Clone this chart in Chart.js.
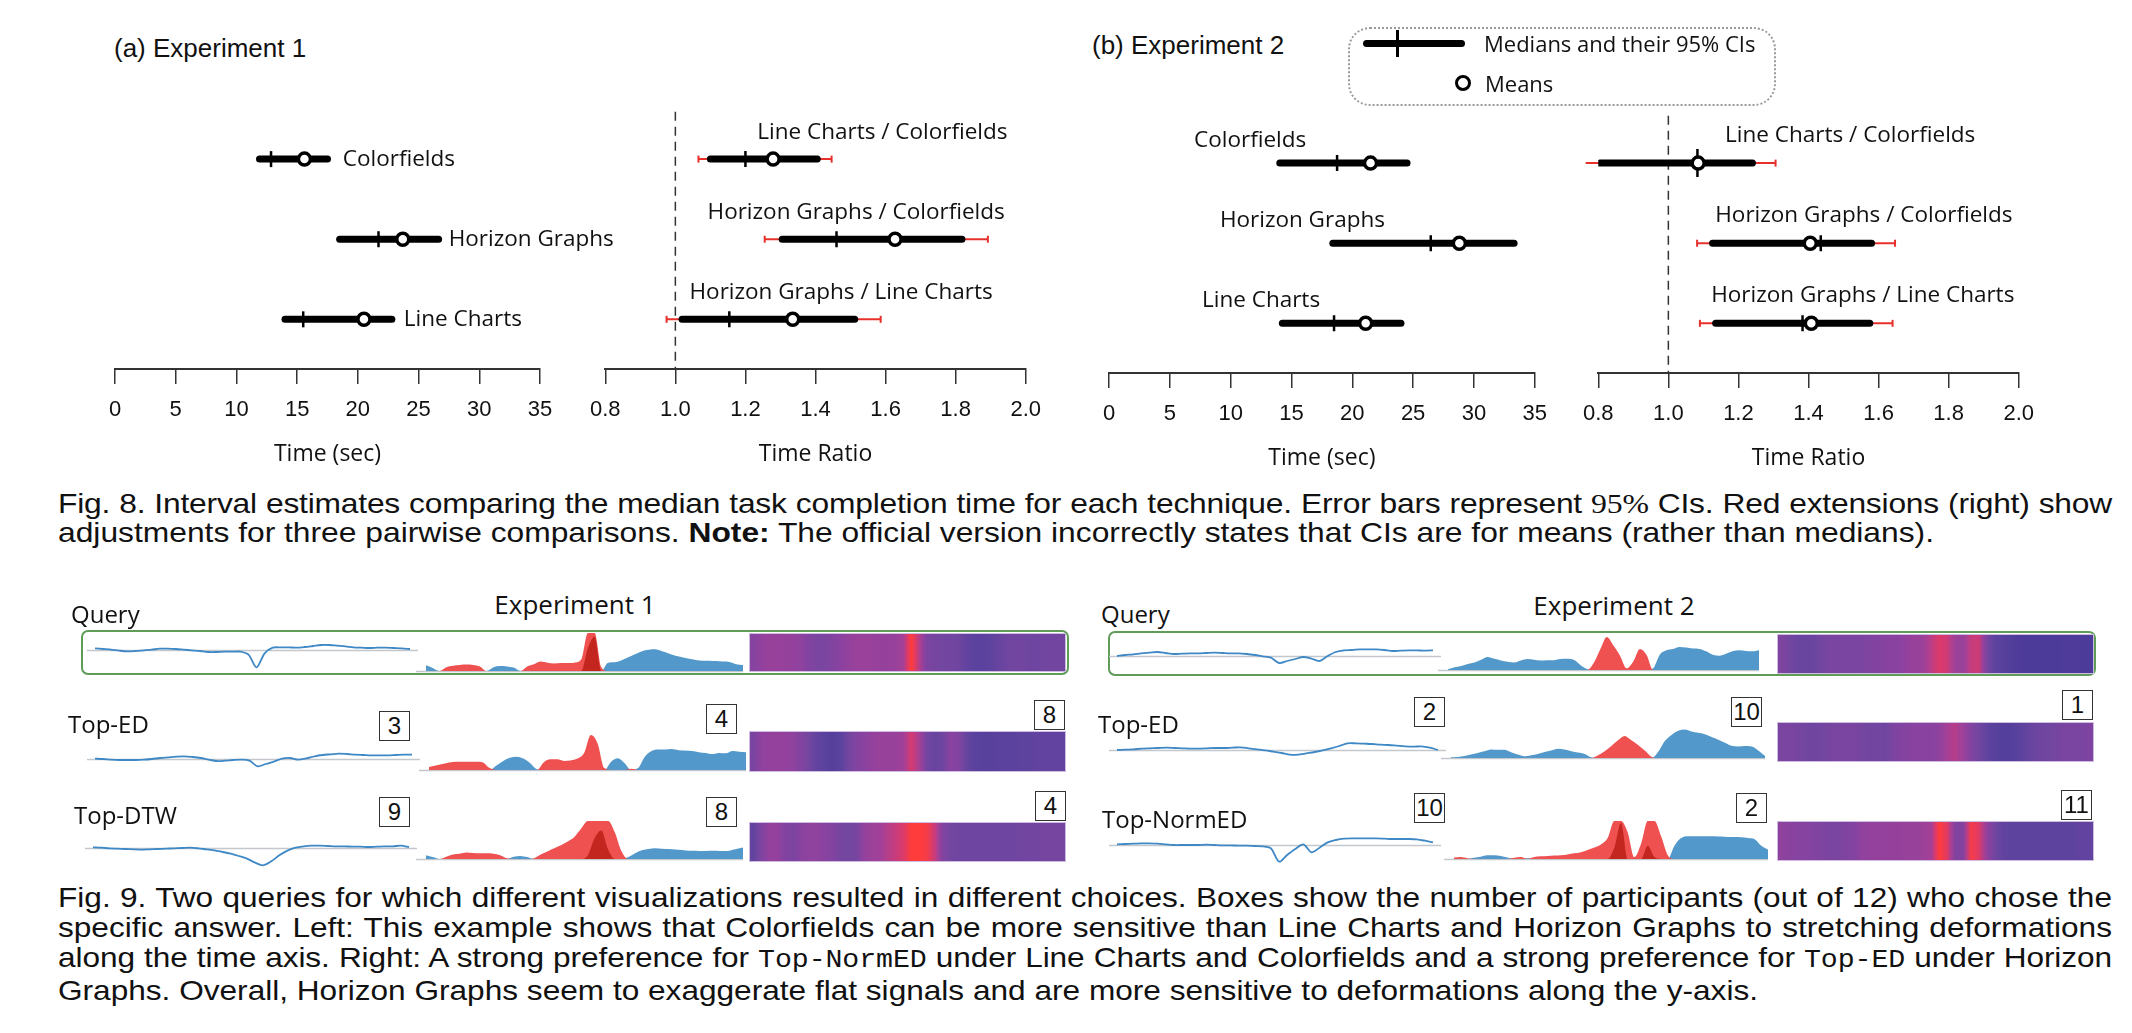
<!DOCTYPE html>
<html>
<head>
<meta charset="utf-8">
<script src="https://cdn.jsdelivr.net/npm/chart.js@4.4.1/dist/chart.umd.min.js"></script>
<style>
  body { margin: 0; background: #fff; }
  #page { position: relative; width: 2132px; height: 1033px; overflow: hidden; color: #111;
          font-family: 'Liberation Sans', Arial, sans-serif; }
  canvas { position: absolute; }
  .t { position: absolute; white-space: nowrap; }
  .num { position: absolute; box-sizing: border-box; border: 1.5px solid #333; background: #fff;
         text-align: center; font: 24px 'Liberation Sans', Arial, sans-serif; color: #111; }
  .qbox { position: absolute; box-sizing: border-box; border: 2px solid #5e9c58; border-radius: 7px; }
  .cap { position: absolute; left: 58px; width: 4000px; font-size: 28px; transform-origin: 0 0; color: #111; }
  .cap > div { white-space: nowrap; }
  .cap > div.just { white-space: normal; text-align: justify; text-align-last: justify; }
  .serif { font-family: 'Liberation Serif', serif; }
  .mono { font-family: 'Liberation Mono', monospace; font-size: 25px; }
</style>
</head>
<body>
<div id="page">
  <div class="cap" id="cap8" style="top:489px; line-height:29px;">
    <div><span>Fig. 8. Interval estimates comparing the median task completion time for each technique. Error bars represent <span class="serif">95%</span> CIs. Red extensions (right) show</span></div>
    <div><span>adjustments for three pairwise comparisons. <b>Note:</b> The official version incorrectly states that CIs are for means (rather than medians).</span></div>
  </div>
  <div class="cap" id="cap9" style="top:883px; line-height:30px;">
    <div><span>Fig. 9. Two queries for which different visualizations resulted in different choices. Boxes show the number of participants (out of 12) who chose the</span></div>
    <div><span>specific answer. Left: This example shows that Colorfields can be more sensitive than Line Charts and Horizon Graphs to stretching deformations</span></div>
    <div><span>along the time axis. Right: A strong preference for <span class="mono">Top-NormED</span> under Line Charts and Colorfields and a strong preference for <span class="mono">Top-ED</span> under Horizon</span></div>
    <div><span>Graphs. Overall, Horizon Graphs seem to exaggerate flat signals and are more sensitive to deformations along the y-axis.</span></div>
  </div>
</div>
<script>
// ---------- Fig. 8 data ----------
const rowsTime = ['Colorfields', 'Horizon Graphs', 'Line Charts'];
const rowsRatio = ['Line Charts / Colorfields', 'Horizon Graphs / Colorfields', 'Horizon Graphs / Line Charts'];

// experiment 1, time (sec)
const e1TimeLo = [11.9, 18.5, 14.0];
const e1TimeHi = [17.5, 26.65, 22.8];
const e1TimeMedian = [12.85, 21.7, 15.5];
const e1TimeMean = [15.6, 23.7, 20.5];
// experiment 1, time ratio
const e1RatioLo = [1.10, 1.305, 1.019];
const e1RatioHi = [1.405, 1.818, 1.512];
const e1RatioAdjLo = [1.066, 1.255, 0.975];
const e1RatioAdjHi = [1.446, 1.892, 1.586];
const e1RatioMedian = [1.20, 1.46, 1.154];
const e1RatioMean = [1.279, 1.627, 1.335];
// experiment 2, time (sec)
const e2TimeLo = [14.04, 18.4, 14.25];
const e2TimeHi = [24.5, 33.3, 24.0];
const e2TimeMedian = [18.75, 26.45, 18.5];
const e2TimeMean = [21.5, 28.8, 21.1];
// experiment 2, time ratio
const e2RatioLo = [0.804, 1.126, 1.135];
const e2RatioHi = [1.24, 1.58, 1.575];
const e2RatioAdjLo = [0.764, 1.082, 1.09];
const e2RatioAdjHi = [1.306, 1.647, 1.64];
const e2RatioMedian = [1.083, 1.435, 1.383];
const e2RatioMean = [1.085, 1.405, 1.408];

// ---------- Fig. 9 data ----------
// line charts (40 samples, arbitrary units, 0 = baseline)
const e1QueryLine = [5,3,1,-2,-4,-3,-1,1,4,4, 3,1,-1,-3,-6,-6,-5,-5,-5,-14, -52,-10,7,8,8,7,9,12,15,15, 13,11,8,7,6,7,7,6,5,3];
const e1TopEdLine = [1,0,-2,-3,-3,-3,-2,0,3,5, 7,8,6,3,-2,-6,-5,-3,-2,-5, -22,-15,-8,1,3,-2,2,8,12,14, 16,15,13,12,11,11,11,12,13,13];
const e1TopDtwLine = [2,1,-1,-2,-3,-4,-5,-4,-3,-2, -1,0,1,-1,-4,-7,-12,-17,-24,-32, -44,-52,-40,-22,-8,1,5,7,7,6, 5,5,4,4,3,4,5,5,7,3];
const e2QueryLine = [0,3,5,8,10,12,9,6,7,8, 8,9,10,9,8,8,6,3,-1,-5, -21,-15,-9,-3,-8,-15,0,12,17,18, 20,20,20,18,15,16,17,17,16,17];
const e2TopEdLine = [0,1,2,4,5,6,7,6,5,4, 4,5,6,6,7,8,5,2,-1,-5, -9,-14,-14,-10,-6,-1,5,12,20,20, 19,18,16,15,13,11,10,11,7,0];
const e2TopNormLine = [2,3,4,5,5,4,2,0,0,0, 0,1,0,-1,-1,-2,-2,-3,-4,-10, -50,-30,-12,2,-22,-8,8,15,19,20, 20,20,20,19,18,18,18,17,13,8];

// horizon graphs (48 samples, in band units: 1 = one band, negative = red)
const e1QueryHz = [0.15,0.08,0,-0.10,-0.14,-0.16,-0.17,-0.16,-0.12,0, 0.10,0.13,0.12,0.09,0,-0.12,-0.18,-0.25,-0.22,-0.20, -0.21,-0.21,-0.22,-0.30,-1.6,-1.9,-0.1,0.22,0.23,0.28, 0.36,0.44,0.52,0.56,0.57,0.52,0.46,0.40,0.36,0.32, 0.29,0.27,0.27,0.26,0.25,0.24,0.18,0.16];
const e1TopEdHz = [-0.08,-0.12,-0.16,-0.20,-0.22,-0.22,-0.22,-0.22,-0.20,-0.05, 0.12,0.24,0.32,0.35,0.30,0.18,0.02,-0.20,-0.28,-0.28, -0.24,-0.25,-0.30,-0.45,-0.92,-0.70,-0.05,0.22,0.31,0.18, -0.03,0.05,0.35,0.50,0.54,0.54,0.55,0.52,0.51,0.50, 0.47,0.45,0.42,0.45,0.44,0.50,0.48,0.47];
const e1TopDtwHz = [0.10,0.05,0,-0.06,-0.12,-0.14,-0.17,-0.16,-0.15,-0.15, -0.14,-0.10,-0.02,0.06,0.08,0.05,-0.02,-0.12,-0.20,-0.28, -0.36,-0.46,-0.58,-0.80,-1.10,-1.55,-1.75,-1.25,-0.70,-0.20, 0.05,0.15,0.23,0.26,0.28,0.27,0.26,0.25,0.24,0.22, 0.22,0.21,0.22,0.22,0.21,0.22,0.26,0.30];
const e2QueryHz = [0.02,0.08,0.12,0.18,0.22,0.30,0.38,0.33,0.28,0.24, 0.22,0.28,0.32,0.30,0.28,0.29,0.29,0.32,0.33,0.30, 0.15,0.03,-0.20,-0.60,-0.97,-0.72,-0.42,-0.05,-0.25,-0.62, -0.45,0.05,0.45,0.58,0.62,0.68,0.66,0.63,0.62,0.55, 0.45,0.42,0.48,0.55,0.58,0.56,0.55,0.58];
const e2TopEdHz = [0.02,0.03,0.06,0.10,0.15,0.20,0.25,0.24,0.24,0.17, 0.10,0.05,0.08,0.12,0.18,0.22,0.27,0.25,0.20,0.16, 0.12,0.02,-0.08,-0.20,-0.35,-0.52,-0.65,-0.52,-0.38,-0.22, -0.04,0.18,0.50,0.68,0.80,0.84,0.78,0.74,0.70,0.62, 0.54,0.45,0.36,0.34,0.35,0.34,0.22,0.06];
const e2TopNormHz = [-0.04,-0.05,-0.02,0.03,0.06,0.10,0.10,0.08,0.04,-0.03, -0.05,0.02,-0.05,-0.07,-0.08,-0.09,-0.10,-0.12,-0.15,-0.18, -0.24,-0.30,-0.38,-0.55,-1.30,-1.95,-0.70,-0.05,-0.40,-1.35, -1.05,-0.60,-0.10,0.35,0.55,0.60,0.60,0.60,0.60,0.60, 0.59,0.58,0.58,0.57,0.55,0.52,0.35,0.25];

// colorfields (40 cells, -1 = red ... +1 = indigo)
const e1QueryField = [0.05,-0.1,-0.15,-0.15,-0.12,-0.1,-0.05,0.1,0.2,0.2, 0.1,0,-0.1,-0.15,-0.18,-0.15,-0.12,-0.12,-0.15,-0.3, -1,-0.4,0.2,0.25,0.3,0.3,0.35,0.5,0.6,0.6, 0.55,0.45,0.35,0.3,0.3,0.35,0.35,0.3,0.3,0.3];
const e1TopEdField = [0.2,-0.05,-0.1,-0.1,-0.1,-0.05,0.1,0.3,0.5,0.6, 0.7,0.6,0.3,0.1,0,-0.1,-0.15,-0.15,-0.15,-0.25, -0.6,-0.3,0.3,0.45,0.35,0,0.1,0.45,0.6,0.65, 0.65,0.6,0.6,0.6,0.55,0.55,0.5,0.5,0.5,0.5];
const e1TopDtwField = [0.5,0.1,-0.1,-0.1,0.1,0.2,0,-0.05,-0.05,0, 0.1,0.25,0.3,0.25,-0.1,-0.2,-0.25,-0.4,-0.5,-0.65, -1,-1,-0.9,-0.5,0.1,0.3,0.35,0.35,0.35,0.35, 0.35,0.35,0.35,0.35,0.3,0.3,0.3,0.25,0.25,0.25];
const e2QueryField = [0.15,0.3,0.4,0.4,0.4,0.3,0.2,0.2,0.2,0.2, 0.2,0.15,0.1,0.05,0,0,-0.1,-0.15,-0.2,-0.45, -0.65,-0.55,-0.2,-0.15,-0.5,-0.55,0.2,0.55,0.65,0.75, 0.8,0.85,0.85,0.85,0.85,0.85,0.8,0.8,0.85,0.85];
const e2TopEdField = [0.2,0.2,0.25,0.3,0.35,0.3,0.25,0.2,0.2,0.2, 0.25,0.3,0.3,0.35,0.2,0.1,0.05,0,0,0, -0.05,-0.3,-0.4,-0.2,0.1,0.3,0.5,0.65,0.7,0.7, 0.6,0.5,0.4,0.35,0.3,0.25,0.2,0.2,0.2,0.15];
const e2TopNormField = [-0.05,0,0.05,0.05,0.1,0.15,0.2,0.2,0.15,0.1, -0.05,-0.1,-0.1,-0.1,-0.12,-0.12,-0.15,-0.15,-0.2,-0.3, -1,-0.7,0.1,0.1,-0.9,-0.7,-0.1,0.3,0.5,0.55, 0.55,0.55,0.55,0.55,0.55,0.55,0.55,0.55,0.5,0.5];

// participants (out of 12) per answer: [line, horizon, colorfield]
const e1Votes = [[3, 4, 8], [9, 8, 4]];
const e2Votes = [[2, 10, 1], [10, 2, 11]];

// ---------- helpers ----------
const SANS = "'Liberation Sans', Arial, sans-serif";
const OPEN = "'Open Sans', sans-serif";
const RED = '#e8302b';
const page = document.getElementById('page');

function mk(x, y, w, h) {
  const c = document.createElement('canvas');
  c.width = Math.round(w); c.height = Math.round(h);
  c.style.left = Math.round(x) + 'px'; c.style.top = Math.round(y) + 'px';
  page.appendChild(c);
  return c;
}

function text(str, x, yc, size, family, align) {
  const d = document.createElement('div');
  d.className = 't';
  d.textContent = str;
  const lh = Math.round(size * 1.3);
  d.style.cssText += `left:${x}px;top:${yc - lh / 2}px;font-size:${size}px;line-height:${lh}px;font-family:${family};`;
  if (align === 'center') d.style.transform = 'translateX(-50%)';
  page.appendChild(d);
  return d;
}

function numBox(n, x, y) {
  const d = document.createElement('div');
  d.className = 'num';
  d.textContent = n;
  d.style.cssText += `left:${x}px;top:${y}px;width:31px;height:30px;line-height:28px;`;
  page.appendChild(d);
}

const baseOpts = () => ({
  responsive: false, animation: false, events: [],
  plugins: { legend: { display: false }, tooltip: { enabled: false } }
});

// text labels placed through the chart scales
function labelPlugin(texts, at, dy, align) {
  return {
    id: 'rowLabels',
    afterDatasetsDraw(chart) {
      const { ctx, scales: { x, y } } = chart;
      ctx.save();
      ctx.font = `22.5px ${OPEN}`;
      ctx.fillStyle = '#111';
      ctx.textAlign = align;
      ctx.textBaseline = 'middle';
      texts.forEach((t, i) => ctx.fillText(t, x.getPixelForValue(at[i]), y.getPixelForValue(i + 1) + dy));
      ctx.restore();
    }
  };
}

// ---------- Fig. 8 panels ----------
function intervalPanel(p) {
  const c = mk(p.left, p.top, p.width, 402);
  const ds = [];
  p.lo.forEach((lo, i) => {
    const r = i + 1;
    if (p.adjLo) ds.push({
      data: [{ x: p.adjLo[i], y: r }, { x: p.adjHi[i], y: r }], showLine: true, clip: false,
      borderColor: RED, borderWidth: 2, pointStyle: 'line', pointRotation: 90,
      pointRadius: 3.5, pointBorderWidth: 2, pointBorderColor: RED, order: 3
    });
    ds.push({
      data: [{ x: lo, y: r }, { x: p.hi[i], y: r }], showLine: true,
      borderColor: '#000', borderWidth: 7, borderCapStyle: 'round', pointRadius: 0, order: 2
    });
  });
  ds.push({
    data: p.median.map((v, i) => ({ x: v, y: i + 1 })), showLine: false,
    pointStyle: 'line', pointRotation: 90, pointRadius: p.medianSize || 8, pointBorderWidth: 2.5,
    pointBorderColor: '#000', order: 1
  });
  ds.push({
    data: p.mean.map((v, i) => ({ x: v, y: i + 1 })), showLine: false,
    pointStyle: 'circle', pointRadius: 6, pointBorderWidth: 3.5,
    pointBorderColor: '#000', pointBackgroundColor: '#fff', order: 0
  });
  if (p.refLine) ds.push({
    data: [{ x: 1, y: 0.41 }, { x: 1, y: 3.62 }], showLine: true,
    borderColor: '#333', borderWidth: 1.5, borderDash: [9, 6], pointRadius: 0, order: 4
  });

  const opts = baseOpts();
  opts.layout = { autoPadding: false, padding: { left: 25, right: p.padR, top: 0, bottom: 0 } };
  opts.scales = {
    x: {
      type: 'linear', min: p.min, max: p.max,
      ticks: { stepSize: p.step, autoSkip: false, maxRotation: 0, padding: 13, color: '#111',
               font: { family: SANS, size: 22 }, callback: p.fmt },
      grid: { drawOnChartArea: false, drawTicks: true, tickLength: 15, color: '#333', lineWidth: 1.5 },
      border: { display: true, color: '#333', width: 2 },
      title: { display: true, text: p.title, color: '#111', font: { family: OPEN, size: 23 },
               padding: { top: 0, bottom: 13 } },
      afterFit: s => { s.height = 112; }
    },
    y: { type: 'linear', reverse: true, min: 0, max: 3.62, display: false }
  };
  new Chart(c, {
    type: 'scatter',
    data: { datasets: ds },
    options: opts,
    plugins: [labelPlugin(p.labels, p.labelAt, p.labelDy, p.labelAlign)]
  });
}

const fmtTime = v => String(v);
const fmtRatio = v => Number(v).toFixed(1);

// experiment 1
intervalPanel({ left: 90, top: 79, width: 550, padR: 100, min: 0, max: 35, step: 5, fmt: fmtTime,
  title: 'Time (sec)', lo: e1TimeLo, hi: e1TimeHi, median: e1TimeMedian, mean: e1TimeMean,
  labels: rowsTime, labelAt: [18.76, 27.48, 23.78], labelDy: 0, labelAlign: 'left' });
intervalPanel({ left: 577, top: 79, width: 477, padR: 25, min: 0.8, max: 2.0, step: 0.2, fmt: fmtRatio,
  title: 'Time Ratio', lo: e1RatioLo, hi: e1RatioHi, adjLo: e1RatioAdjLo, adjHi: e1RatioAdjHi,
  median: e1RatioMedian, mean: e1RatioMean, refLine: true,
  labels: rowsRatio, labelAt: [1.591, 1.516, 1.473], labelDy: -26.5, labelAlign: 'center' });
// experiment 2
intervalPanel({ left: 1084, top: 83, width: 476, padR: 25, min: 0, max: 35, step: 5, fmt: fmtTime,
  title: 'Time (sec)', lo: e2TimeLo, hi: e2TimeHi, median: e2TimeMedian, mean: e2TimeMean,
  labels: rowsTime, labelAt: [11.6, 15.9, 12.5], labelDy: -23, labelAlign: 'center' });
intervalPanel({ left: 1570, top: 83, width: 477, padR: 25, min: 0.8, max: 2.0, step: 0.2, fmt: fmtRatio,
  title: 'Time Ratio', lo: e2RatioLo, hi: e2RatioHi, adjLo: e2RatioAdjLo, adjHi: e2RatioAdjHi,
  median: e2RatioMedian, mean: e2RatioMean, refLine: true, medianSize: [14, 8, 8],
  labels: rowsRatio, labelAt: [1.519, 1.558, 1.555], labelDy: -28, labelAlign: 'center' });

text('(a) Experiment 1', 114, 48, 26, SANS);
text('(b) Experiment 2', 1092, 45, 26, SANS);

// legend box
(function legend() {
  const box = document.createElement('div');
  box.style.cssText = 'position:absolute;left:1348px;top:27px;width:428px;height:79px;box-sizing:border-box;border:2.5px dotted #9a9a9a;border-radius:22px;';
  page.appendChild(box);
  const bar = document.createElement('div');
  bar.style.cssText = 'position:absolute;left:1363px;top:40px;width:102px;height:7px;background:#000;border-radius:3.5px;';
  page.appendChild(bar);
  const tick = document.createElement('div');
  tick.style.cssText = 'position:absolute;left:1396px;top:30px;width:3px;height:27px;background:#000;';
  page.appendChild(tick);
  const ring = document.createElement('div');
  ring.style.cssText = 'position:absolute;left:1455px;top:75px;width:16px;height:16px;box-sizing:border-box;border:3.5px solid #000;border-radius:50%;background:#fff;';
  page.appendChild(ring);
  text('Medians and their 95% CIs', 1484, 43, 22, OPEN);
  text('Means', 1485, 83, 22, OPEN);
})();

// ---------- Fig. 9 thumbnails ----------
function baselinePlugin(color, value) {
  return {
    id: 'baseline',
    beforeDatasetsDraw(chart) {
      const { ctx, scales: { y } } = chart;
      const py = Math.round(y.getPixelForValue(value)) + 0.5;
      ctx.save();
      ctx.strokeStyle = color; ctx.lineWidth = 1.3;
      ctx.beginPath(); ctx.moveTo(0, py); ctx.lineTo(chart.width, py); ctx.stroke();
      ctx.restore();
    }
  };
}

function lineThumb(p, values) {
  const ext = 8, n = values.length - 1, ppi = (p.x1 - p.x0) / n;
  const c = mk(p.x0 - ext, p.base - 21, p.x1 - p.x0 + 2 * ext, 42);
  const opts = baseOpts();
  opts.layout = { autoPadding: false, padding: 0 };
  opts.scales = {
    x: { type: 'linear', display: false, min: -ext / ppi, max: n + ext / ppi },
    y: { display: false, min: -63, max: 63 }
  };
  new Chart(c, {
    type: 'line',
    data: { datasets: [{ data: values.map((v, i) => ({ x: i, y: v })), borderColor: '#3f88c6',
      borderWidth: 1.8, pointRadius: 0, tension: 0.3 }] },
    options: opts,
    plugins: [baselinePlugin('#c4c8cc', 0)]
  });
}

const clamp01 = v => Math.max(0, Math.min(1, v));
function horizonThumb(p, values) {
  const padL = 10, padB = 3;
  const c = mk(p.x0 - padL, p.base - p.h, p.x1 - p.x0 + padL, p.h + padB);
  const opts = baseOpts();
  opts.layout = { autoPadding: false, padding: { left: padL, bottom: padB, top: 0, right: 0 } };
  opts.scales = { x: { display: false }, y: { display: false, min: 0, max: 1 } };
  const common = { fill: 'origin', borderWidth: 0, pointRadius: 0, cubicInterpolationMode: 'monotone' };
  new Chart(c, {
    type: 'line',
    data: {
      labels: values.map((_, i) => i),
      datasets: [
        { ...common, data: values.map(v => clamp01(-v - 1)), backgroundColor: '#c3261e' },
        { ...common, data: values.map(v => clamp01(-v)), backgroundColor: '#ee5150' },
        { ...common, data: values.map(v => clamp01(v)), backgroundColor: '#5298cb' }
      ]
    },
    options: opts,
    plugins: [baselinePlugin('#c4c8cc', 0)]
  });
}

const fieldStops = [
  [-1.0, [255, 60, 60]], [-0.6, [214, 58, 112]], [-0.3, [166, 64, 150]], [0.0, [138, 66, 160]],
  [0.3, [114, 70, 160]], [0.6, [90, 66, 158]], [1.0, [68, 54, 150]]
];
function fieldColor(v) {
  for (let k = 1; k < fieldStops.length; k++) {
    const [v1, c1] = fieldStops[k], [v0, c0] = fieldStops[k - 1];
    if (v <= v1 || k === fieldStops.length - 1) {
      const t = Math.max(0, Math.min(1, (v - v0) / (v1 - v0)));
      const c = c0.map((a, j) => Math.round(a + (c1[j] - a) * t));
      return `rgb(${c[0]},${c[1]},${c[2]})`;
    }
  }
}

// each cell is shaded from its own value towards the midpoints with its neighbours
function cellFill(values) {
  return (c) => {
    const i = c.dataIndex;
    const chart = c.chart, x = chart.scales && chart.scales.x;
    if (!x || !chart.chartArea || i === undefined) return fieldColor(values[i] || 0);
    const cx = x.getPixelForValue(i);
    const hw = Math.abs(x.getPixelForValue(1) - x.getPixelForValue(0)) / 2;
    if (!isFinite(cx) || !isFinite(hw) || hw === 0) return fieldColor(values[i]);
    const prev = values[Math.max(0, i - 1)], next = values[Math.min(values.length - 1, i + 1)];
    const g = chart.ctx.createLinearGradient(cx - hw, 0, cx + hw, 0);
    g.addColorStop(0, fieldColor((prev + values[i]) / 2));
    g.addColorStop(0.5, fieldColor(values[i]));
    g.addColorStop(1, fieldColor((values[i] + next) / 2));
    return g;
  };
}

function fieldThumb(p, values) {
  const c = mk(p.x0, p.y0, p.x1 - p.x0, p.y1 - p.y0);
  c.style.outline = '1px solid #cdbbe2';
  const opts = baseOpts();
  opts.layout = { autoPadding: false, padding: 0 };
  opts.scales = { x: { display: false }, y: { display: false, min: 0, max: 1 } };
  new Chart(c, {
    type: 'bar',
    data: { labels: values.map((_, i) => i), datasets: [{ data: values.map(() => 1),
      backgroundColor: cellFill(values), categoryPercentage: 1, barPercentage: 1, borderWidth: 0,
      inflateAmount: 0.6 }] },
    options: opts
  });
}

// layout of the thumbnails
const e1Layout = [
  { line: { x0: 95, x1: 410, base: 650 }, hz: { x0: 426, x1: 743, base: 671, h: 38 }, field: { x0: 750, x1: 1065, y0: 634, y1: 671 } },
  { line: { x0: 95, x1: 412, base: 759 }, hz: { x0: 429, x1: 746, base: 770, h: 38 }, field: { x0: 750, x1: 1065, y0: 732, y1: 771 } },
  { line: { x0: 93, x1: 409, base: 848 }, hz: { x0: 426, x1: 743, base: 859, h: 38 }, field: { x0: 750, x1: 1065, y0: 823, y1: 861 } }
];
const e2Layout = [
  { line: { x0: 1117, x1: 1433, base: 656 }, hz: { x0: 1448, x1: 1759, base: 670, h: 34 }, field: { x0: 1778, x1: 2093, y0: 635, y1: 673 } },
  { line: { x0: 1117, x1: 1438, base: 750 }, hz: { x0: 1451, x1: 1765, base: 758, h: 34 }, field: { x0: 1778, x1: 2093, y0: 723, y1: 761 } },
  { line: { x0: 1117, x1: 1433, base: 845 }, hz: { x0: 1454, x1: 1768, base: 859, h: 38 }, field: { x0: 1778, x1: 2093, y0: 822, y1: 860 } }
];

const e1Lines = [e1QueryLine, e1TopEdLine, e1TopDtwLine];
const e1Hz = [e1QueryHz, e1TopEdHz, e1TopDtwHz];
const e1Fields = [e1QueryField, e1TopEdField, e1TopDtwField];
const e2Lines = [e2QueryLine, e2TopEdLine, e2TopNormLine];
const e2Hz = [e2QueryHz, e2TopEdHz, e2TopNormHz];
const e2Fields = [e2QueryField, e2TopEdField, e2TopNormField];

// green query frames
const q1 = document.createElement('div');
q1.className = 'qbox';
q1.style.cssText += 'left:81px;top:630px;width:988px;height:45px;';
page.appendChild(q1);
const q2 = document.createElement('div');
q2.className = 'qbox';
q2.style.cssText += 'left:1108px;top:631px;width:988px;height:45px;';
page.appendChild(q2);

e1Layout.forEach((l, i) => { lineThumb(l.line, e1Lines[i]); horizonThumb(l.hz, e1Hz[i]); fieldThumb(l.field, e1Fields[i]); });
e2Layout.forEach((l, i) => { lineThumb(l.line, e2Lines[i]); horizonThumb(l.hz, e2Hz[i]); fieldThumb(l.field, e2Fields[i]); });

// headings and row names
text('Query', 71, 613, 24, OPEN);
text('Experiment 1', 575, 604, 26, OPEN, 'center');
text('Top-ED', 68, 723, 24, OPEN);
text('Top-DTW', 74, 814, 24, OPEN);
text('Query', 1101, 613, 24, OPEN);
text('Experiment 2', 1614, 605, 26, OPEN, 'center');
text('Top-ED', 1098, 723, 24, OPEN);
text('Top-NormED', 1102, 818, 24, OPEN);

// vote boxes
const e1BoxPos = [[[379, 711], [706, 704], [1034, 700]], [[379, 797], [706, 797], [1035, 791]]];
const e2BoxPos = [[[1414, 697], [1731, 697], [2062, 690]], [[1414, 793], [1736, 793], [2061, 790]]];
e1Votes.forEach((row, r) => row.forEach((n, k) => numBox(n, e1BoxPos[r][k][0], e1BoxPos[r][k][1])));
e2Votes.forEach((row, r) => row.forEach((n, k) => numBox(n, e2BoxPos[r][k][0], e2BoxPos[r][k][1])));

// ---------- captions: stretch to the column, justify all but the last line ----------
function fitCaption(id, lastWidth, fullWidth) {
  const el = document.getElementById(id);
  const lines = [...el.children];
  const spans = lines.map(d => d.firstElementChild);
  const nat = spans.map(s => s.getBoundingClientRect().width);
  const last = lines.length - 1;
  const s = lastWidth / nat[last];
  const inner = fullWidth / s;
  lines.forEach((d, i) => {
    if (i === last) return;
    if (nat[i] > inner - 6) {
      const chars = spans[i].textContent.length;
      d.style.letterSpacing = ((inner - 8 - nat[i]) / chars) + 'px';
    }
    d.classList.add('just');
  });
  el.style.width = inner + 'px';
  el.style.transform = `scaleX(${s})`;
}
fitCaption('cap8', 1876, 2054);
fitCaption('cap9', 1700, 2054);
</script>
</body>
</html>
